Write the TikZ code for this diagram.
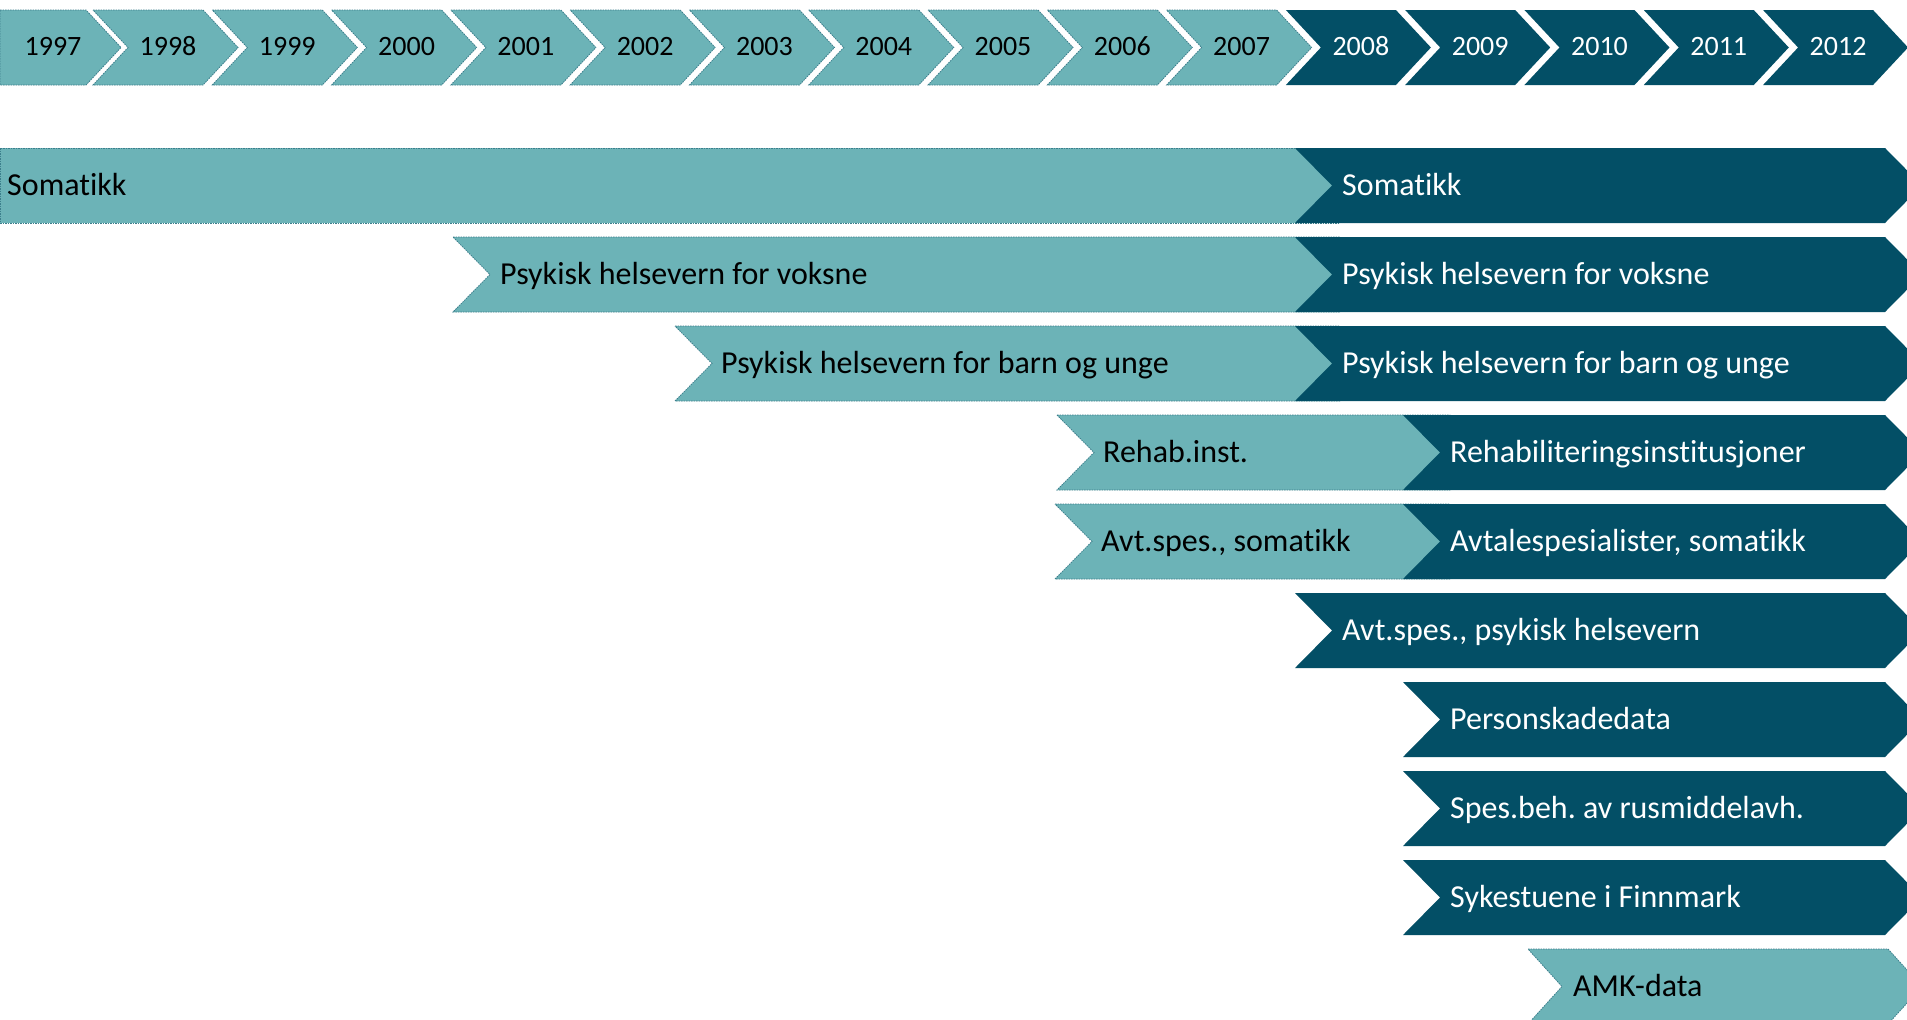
\documentclass[tikz,border=0pt]{standalone}
\usepackage{fontspec}
\setmainfont{Carlito}[RawFeature={-liga}]
\frenchspacing
\definecolor{lteal}{HTML}{6CB3B7}
\definecolor{dteal}{HTML}{034F66}
\definecolor{bord}{HTML}{3C7F8C}
% chevron: style, x0 (top-left), x1 (top-right), top, depth
\newcommand\chv[5]{%
  \path[#1] (#2,#4) -- (#3,#4) -- ({#3+#5},{#4+37.5}) -- (#3,{#4+75}) -- (#2,{#4+75}) -- ({#2+#5},{#4+37.5}) -- cycle;}
% light bar with notch on the left and a flat end hidden under a dark bar
\newcommand\lbar[3]{%
  \path[lshape] (#1,#3) -- (#2,#3) -- (#2,{#3+75}) -- (#1,{#3+75}) -- ({#1+37},{#3+37.5}) -- cycle;}
\begin{document}
\begin{tikzpicture}[x=1pt,y=-1pt,
  lshape/.style={fill=lteal,draw=bord,line width=0.8pt,dash pattern=on 1.5pt off 1pt},
  dshape/.style={fill=dteal},
  ltext/.style={anchor=base west,inner sep=0pt,text=black,font=\fontsize{32}{38}\selectfont},
  dtext/.style={ltext,text=white},
  ytext/.style={anchor=base,inner sep=0pt,font=\fontsize{28}{34}\selectfont}]
\clip (0,0) rectangle (1907,1020);
\fill[white] (0,0) rectangle (1907,1020);

% ---- year chevrons
\path[lshape] (0,10) -- (86,10) -- (121,47.5) -- (86,85) -- (0,85) -- cycle;
\node[ytext,text=black] (y1997) at (53,55) {1997};
\foreach \k in {1,...,15}{
  \pgfmathsetmacro\xa{93+(\k-1)*119.29}
  \pgfmathsetmacro\xb{\xa+110}
  \pgfmathtruncatemacro\yr{1997+\k}
  \ifnum\k<11
    \chv{lshape}{\xa}{\xb}{10}{35}
    \node[ytext,text=black] (y\yr) at ({\xa+75},55) {\yr};
  \else
    \chv{dshape}{\xa}{\xb}{10}{35}
    \node[ytext,text=white] (y\yr) at ({\xa+75},55) {\yr};
  \fi
}

% ---- row 0: Somatikk
\path[lshape] (0,148) rectangle (1340,223);
\chv{dshape}{1295}{1885}{148}{37}
\node[ltext] (l0) at (7,195) {Somatikk};
\node[dtext] (d0) at (1342,195) {Somatikk};

% ---- row 1
\lbar{453}{1340}{237}
\chv{dshape}{1295}{1885}{237}{37}
\node[ltext] (l1) at (500,284) {Psykisk helsevern for voksne};
\node[dtext] (d1) at (1342,284) {Psykisk helsevern for voksne};

% ---- row 2
\lbar{675}{1340}{326}
\chv{dshape}{1295}{1885}{326}{37}
\node[ltext] (l2) at (721,373) {Psykisk helsevern for barn og unge};
\node[dtext] (d2) at (1342,373) {Psykisk helsevern for barn og unge};

% ---- row 3
\lbar{1057}{1450}{415}
\chv{dshape}{1403}{1885}{415}{37}
\node[ltext] (l3) at (1103,462) {Rehab.inst.};
\node[dtext] (d3) at (1450,462) {Rehabiliteringsinstitusjoner};

% ---- row 4
\lbar{1055}{1450}{504}
\chv{dshape}{1403}{1885}{504}{37}
\node[ltext] (l4) at (1101,551) {Avt.spes., somatikk};
\node[dtext] (d4) at (1450,551) {Avtalespesialister, somatikk};

% ---- row 5
\chv{dshape}{1295}{1885}{593}{37}
\node[dtext] (d5) at (1342,640) {Avt.spes., psykisk helsevern};

% ---- row 6
\chv{dshape}{1403}{1885}{682}{37}
\node[dtext] (d6) at (1450,729) {Personskadedata};

% ---- row 7
\chv{dshape}{1403}{1885}{771}{37}
\node[dtext] (d7) at (1450,818) {Spes.beh. av rusmiddelavh.};

% ---- row 8
\chv{dshape}{1403}{1885}{860}{37}
\node[dtext] (d8) at (1450,907) {Sykestuene i Finnmark};

% ---- row 9
\chv{lshape}{1528}{1888}{949}{34}
\node[ltext] (l9) at (1573,996) {AMK-data};
\end{tikzpicture}
\end{document}
